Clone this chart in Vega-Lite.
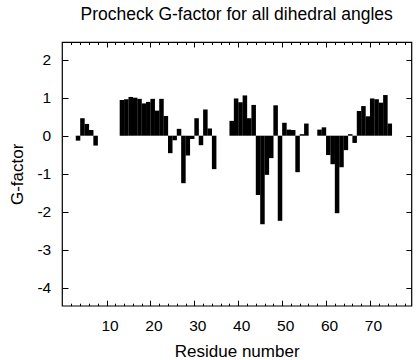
{
  "$schema": "https://vega.github.io/schema/vega-lite/v6.json",
  "width": 349.4,
  "height": 263.7,
  "autosize": {"type": "none"},
  "padding": {"left": 62, "top": 42, "right": 4.6, "bottom": 54.3},
  "title": {
    "text": "Procheck G-factor for all dihedral angles",
    "font": "Liberation Sans",
    "fontSize": 17.5,
    "fontWeight": "normal",
    "color": "black",
    "anchor": "middle",
    "frame": "group",
    "baseline": "alphabetic",
    "offset": 4.5
  },
  "config": {
    "view": {"stroke": "black", "strokeWidth": 1.2},
    "axis": {
      "domain": false,
      "grid": false,
      "labelFont": "Liberation Sans",
      "titleFont": "Liberation Sans",
      "labelColor": "black",
      "titleColor": "black",
      "tickColor": "black",
      "tickWidth": 1,
      "labelFontSize": 15.5,
      "titleFontSize": 17,
      "titleFontWeight": "normal"
    }
  },
  "data": {
    "values": [
      {"residue": 3, "g": -0.13},
      {"residue": 4, "g": 0.46},
      {"residue": 5, "g": 0.31},
      {"residue": 6, "g": 0.15},
      {"residue": 7, "g": -0.26},
      {"residue": 13, "g": 0.94},
      {"residue": 14, "g": 0.96},
      {"residue": 15, "g": 1.02},
      {"residue": 16, "g": 1.0},
      {"residue": 17, "g": 0.97},
      {"residue": 18, "g": 0.85},
      {"residue": 19, "g": 0.89},
      {"residue": 20, "g": 0.97},
      {"residue": 21, "g": 0.66},
      {"residue": 22, "g": 0.97},
      {"residue": 23, "g": 0.52},
      {"residue": 24, "g": -0.46},
      {"residue": 25, "g": -0.12},
      {"residue": 26, "g": 0.18},
      {"residue": 27, "g": -1.25},
      {"residue": 28, "g": -0.52},
      {"residue": 29, "g": -0.09},
      {"residue": 30, "g": 0.46},
      {"residue": 31, "g": -0.25},
      {"residue": 32, "g": 0.69},
      {"residue": 33, "g": 0.19},
      {"residue": 34, "g": -0.88},
      {"residue": 38, "g": 0.39},
      {"residue": 39, "g": 0.98},
      {"residue": 40, "g": 0.88},
      {"residue": 41, "g": 1.06},
      {"residue": 42, "g": 0.46},
      {"residue": 43, "g": 0.81},
      {"residue": 44, "g": -1.56},
      {"residue": 45, "g": -2.33},
      {"residue": 46, "g": -1.03},
      {"residue": 47, "g": -0.59},
      {"residue": 48, "g": 0.8},
      {"residue": 49, "g": -2.24},
      {"residue": 50, "g": 0.34},
      {"residue": 51, "g": 0.16},
      {"residue": 52, "g": 0.15},
      {"residue": 53, "g": -0.96},
      {"residue": 54, "g": 0.04},
      {"residue": 55, "g": 0.32},
      {"residue": 58, "g": 0.16},
      {"residue": 59, "g": 0.22},
      {"residue": 60, "g": -0.51},
      {"residue": 61, "g": -0.75},
      {"residue": 62, "g": -2.04},
      {"residue": 63, "g": -0.83},
      {"residue": 64, "g": -0.38},
      {"residue": 65, "g": 0.04},
      {"residue": 66, "g": -0.19},
      {"residue": 67, "g": 0.65},
      {"residue": 68, "g": 0.78},
      {"residue": 69, "g": 0.51},
      {"residue": 70, "g": 0.98},
      {"residue": 71, "g": 0.96},
      {"residue": 72, "g": 0.87},
      {"residue": 73, "g": 1.07},
      {"residue": 74, "g": 0.32}
    ]
  },
  "resolve": {"axis": {"x": "independent", "y": "independent"}},
  "layer": [
    {
      "mark": {"type": "bar", "orient": "vertical", "color": "black", "width": 4.524, "xOffset": 2.262},
      "encoding": {
        "x": {
          "field": "residue",
          "type": "quantitative",
          "scale": {"domain": [1, 78.3], "nice": false, "zero": false},
          "axis": {
            "orient": "bottom",
            "values": [10, 20, 30, 40, 50, 60, 70],
            "tickSize": -5.5,
            "labelBaseline": "alphabetic",
            "labelPadding": 29.8,
            "labelOffset": 3,
            "title": "Residue number",
            "titleY": 51,
            "titleBaseline": "alphabetic"
          }
        },
        "y": {
          "field": "g",
          "type": "quantitative",
          "scale": {"domain": [-4.474, 2.466], "nice": false, "zero": false},
          "axis": {
            "orient": "left",
            "values": [-4, -3, -2, -1, 0, 1, 2],
            "labelExpr": "toString(datum.value)",
            "tickSize": -6,
            "labelPadding": 17.3,
            "title": "G-factor",
            "titleX": -40,
            "titleY": 131.85,
            "titleBaseline": "alphabetic"
          }
        }
      }
    },
    {
      "mark": {"type": "point", "opacity": 0},
      "encoding": {
        "x": {
          "field": "residue",
          "type": "quantitative",
          "axis": {
            "orient": "bottom",
            "values": [2, 4, 6, 8, 12, 14, 16, 18, 22, 24, 26, 28, 32, 34, 36, 38, 42, 44, 46, 48, 52, 54, 56, 58, 62, 64, 66, 68, 72, 74, 76, 78],
            "tickSize": -2.5,
            "labels": false,
            "title": null
          }
        },
        "y": {
          "field": "g",
          "type": "quantitative",
          "axis": {
            "orient": "right",
            "values": [-4, -3, -2, -1, 0, 1, 2],
            "tickSize": -5.5,
            "labels": false,
            "title": null
          }
        }
      }
    },
    {
      "mark": {"type": "point", "opacity": 0},
      "encoding": {
        "x": {
          "field": "residue",
          "type": "quantitative",
          "axis": {
            "orient": "top",
            "values": [10, 20, 30, 40, 50, 60, 70],
            "tickSize": -5,
            "labels": false,
            "title": null
          }
        },
        "y": {"field": "g", "type": "quantitative", "axis": null}
      }
    },
    {
      "mark": {"type": "point", "opacity": 0},
      "encoding": {
        "x": {
          "field": "residue",
          "type": "quantitative",
          "axis": {
            "orient": "top",
            "values": [2, 4, 6, 8, 12, 14, 16, 18, 22, 24, 26, 28, 32, 34, 36, 38, 42, 44, 46, 48, 52, 54, 56, 58, 62, 64, 66, 68, 72, 74, 76, 78],
            "tickSize": -2.5,
            "labels": false,
            "title": null
          }
        },
        "y": {"field": "g", "type": "quantitative", "axis": null}
      }
    }
  ]
}
